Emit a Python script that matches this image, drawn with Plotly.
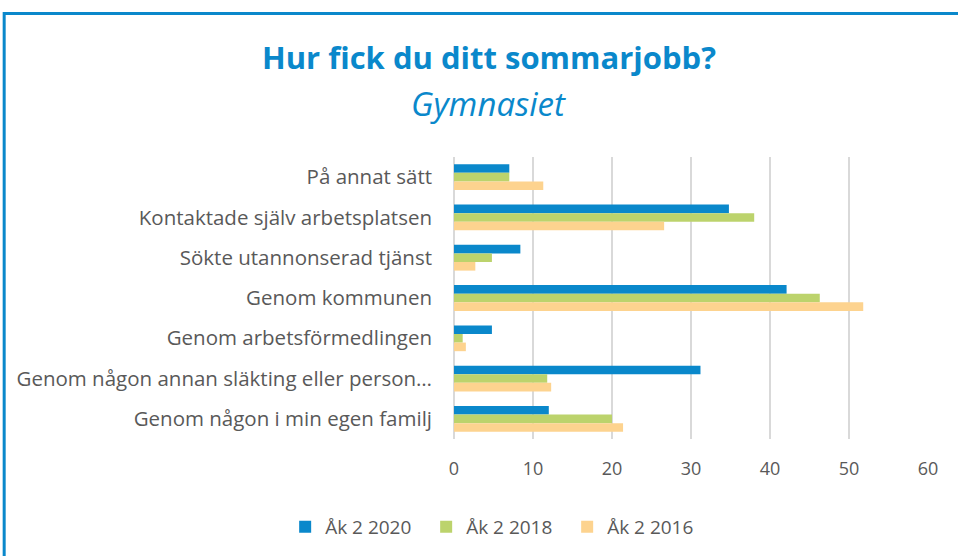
import plotly.graph_objects as go

categories = [
    "På annat sätt",
    "Kontaktade själv arbetsplatsen",
    "Sökte utannonserad tjänst",
    "Genom kommunen",
    "Genom arbetsförmedlingen",
    "Genom någon annan släkting eller person…",
    "Genom någon i min egen familj",
]
series_names = ["Åk 2 2020", "Åk 2 2018", "Åk 2 2016"]
vals_2020 = [7.0, 34.8, 8.4, 42.1, 4.8, 31.2, 12.0]
vals_2018 = [7.0, 38.0, 4.8, 46.3, 1.1, 11.8, 20.0]
vals_2016 = [11.3, 26.6, 2.7, 51.8, 1.5, 12.3, 21.4]
colors = ["#0A88CB", "#BCD36C", "#FDD38F"]
x_ticks = [0, 10, 20, 30, 40, 50, 60]

FONT = "'Open Sans', sans-serif"
GRAY = "#595959"
BLUE = "#0A88CB"

fig = go.Figure()
for name, vals, col in zip(series_names, [vals_2020, vals_2018, vals_2016], colors):
    fig.add_trace(go.Bar(
        y=categories, x=vals, name=name, orientation="h",
        marker=dict(color=col, line=dict(width=0)),
    ))

fig.update_layout(
    width=958, height=556,
    margin=dict(l=454, r=30, t=157, b=116),
    paper_bgcolor="white", plot_bgcolor="white",
    barmode="group", bargap=0.36, bargroupgap=0,
    font=dict(family=FONT, color=GRAY, size=18),
    showlegend=True,
    legend=dict(orientation="h", x=0.090, xanchor="center", y=-0.307, yanchor="middle",
                font=dict(size=19, color=GRAY), itemwidth=30, traceorder="normal",
                entrywidth=96, entrywidthmode="pixels"),
    xaxis=dict(range=[0, 60], tickvals=x_ticks, showgrid=True, gridcolor="#D9D9D9",
               gridwidth=2, zeroline=True, zerolinecolor="#D9D9D9", zerolinewidth=2,
               showline=False,
               tickfont=dict(size=18, color=GRAY), ticklabelstandoff=17),
    yaxis=dict(autorange="reversed", showgrid=False, zeroline=False, showline=False,
               tickfont=dict(size=20.5, color=GRAY), ticklabelstandoff=21),
    annotations=[
        dict(text="<b>Hur fick du ditt sommarjobb?</b>", xref="paper", yref="paper",
             x=0.073, y=1.353, xanchor="center", yanchor="middle", showarrow=False,
             font=dict(size=31, color=BLUE, family=FONT)),
        dict(text="<i>Gymnasiet</i>", xref="paper", yref="paper",
             x=0.073, y=1.191, xanchor="center", yanchor="middle", showarrow=False,
             font=dict(size=33, color=BLUE, family=FONT)),
    ],
    shapes=[
        dict(type="rect", xref="paper", yref="paper", x0=-0.949, x1=1.3, y0=-0.8, y1=1.509,
             line=dict(color=BLUE, width=3), layer="below"),
    ],
)

fig.write_html("out.html", post_script="document.body.style.margin='0';",
               config={"displayModeBar": False})
